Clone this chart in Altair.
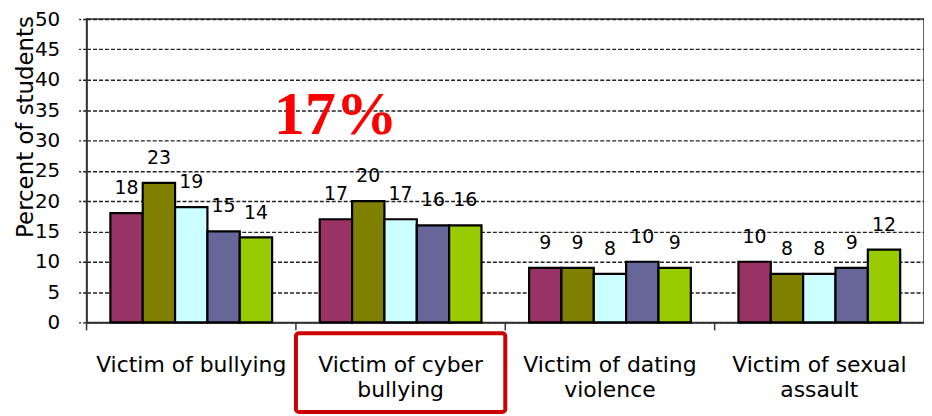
import altair as alt
import pandas as pd

categories = ["Victim of bullying", "Victim of cyber bullying",
              "Victim of dating violence", "Victim of sexual assault"]
label_lines = [["Victim of bullying"], ["Victim of cyber", "bullying"],
               ["Victim of dating", "violence"], ["Victim of sexual", "assault"]]
series = ["Group 1", "Group 2", "Group 3", "Group 4", "Group 5"]
colors = ["#993366", "#808000", "#CCFFFF", "#666699", "#99CC00"]
g1 = [18, 17, 9, 10]
g2 = [23, 20, 9, 8]
g3 = [19, 17, 8, 8]
g4 = [15, 16, 10, 9]
g5 = [14, 16, 9, 12]
y_ticks = list(range(0, 51, 5))
highlight_category = "Victim of cyber bullying"
highlight_text = "17%"
highlight_y = 31

W, H = 842, 305
FONT = "DejaVu Sans"

rows = []
for s, vals in zip(series, [g1, g2, g3, g4, g5]):
    for c, v in zip(categories, vals):
        rows.append({"category": c, "series": s, "value": v})
df = pd.DataFrame(rows)
cat_df = pd.DataFrame({"category": categories})
ann_df = pd.DataFrame({"category": [highlight_category], "y": [highlight_y], "t": [highlight_text]})

def js_list(lst):
    return "[" + ",".join("'" + x + "'" for x in lst) + "]"

expr = "datum.label"
for c, lines in reversed(list(zip(categories, label_lines))):
    expr = f"datum.label == '{c}' ? {js_list(lines)} : ({expr})"

x_scale = alt.Scale(domain=categories, paddingInner=0, paddingOuter=0)
x_axis = alt.Axis(title=None, ticks=False, tickSize=0, labelAngle=0, labelExpr=expr,
                  labelFont=FONT, labelFontSize=22, labelLineHeight=26, labelPadding=32,
                  labelBaseline="top", labelColor="black", labelLimit=0,
                  domainColor="#333333", domainWidth=1.5, grid=False)
y_axis = alt.Axis(values=y_ticks, grid=True, gridDash=[4, 2], gridColor="#222222",
                  gridWidth=1.4, tickDash=[4, 2], tickColor="#222222", tickSize=8,
                  tickWidth=1.4, labelFont=FONT, labelFontSize=20, labelColor="black",
                  labelPadding=19, labelOverlap=False, domainColor="#333333", domainWidth=1.5,
                  title="Percent of students", titleFont=FONT, titleFontSize=23,
                  titleFontWeight="normal", titleColor="black", titleAngle=-90,
                  titleX=-54, titleY=108, titleAlign="center", titleBaseline="alphabetic")
y_scale = alt.Scale(domain=[0, 50], nice=False)

X = alt.X("category:N", scale=x_scale, axis=x_axis)
X0 = alt.X("category:N", scale=x_scale, axis=x_axis, bandPosition=0)
Y = alt.Y("value:Q", scale=y_scale, axis=y_axis)

base = alt.Chart(df)
bars = base.mark_bar(stroke="black", strokeWidth=2.2).encode(
    x=X,
    xOffset=alt.XOffset("series:N", sort=series,
                        scale=alt.Scale(paddingInner=0, paddingOuter=0.736)),
    y=Y,
    color=alt.Color("series:N", sort=series,
                    scale=alt.Scale(domain=series, range=colors), legend=None),
)
labels = base.mark_text(font=FONT, fontSize=19, color="black", dy=-19,
                        baseline="alphabetic", align="center").encode(
    x=X,
    xOffset=alt.XOffset("series:N", sort=series),
    y=Y,
    text=alt.Text("value:Q"),
)
ticks = alt.Chart(cat_df).mark_rule(color="#333333", strokeWidth=1.5).encode(
    x=X0,
    y=alt.value(H),
    y2=alt.value(H + 8),
)
box = alt.Chart(cat_df).transform_filter(
    alt.datum.category == highlight_category
).mark_rect(fillOpacity=0, stroke="#CC0000", strokeWidth=4, cornerRadius=3).encode(
    x=X,
    y=alt.value(H + 11),
    y2=alt.value(H + 90),
)
ann = alt.Chart(ann_df).mark_text(font="Liberation Serif", fontWeight="bold",
                                  fontSize=62, color="#FF0000", align="center",
                                  baseline="alphabetic", dx=40).encode(
    x=X0,
    y=alt.Y("y:Q", scale=y_scale, axis=y_axis),
    text="t:N",
)

chart = alt.layer(bars, labels, ticks, box, ann).properties(
    width=W, height=H,
    padding={"left": 6, "top": 0, "right": 0, "bottom": 0},
    background="white",
).configure_view(stroke="#333333", strokeWidth=1.5)

chart.save("out.html", embed_options={"renderer": "svg", "actions": False})
